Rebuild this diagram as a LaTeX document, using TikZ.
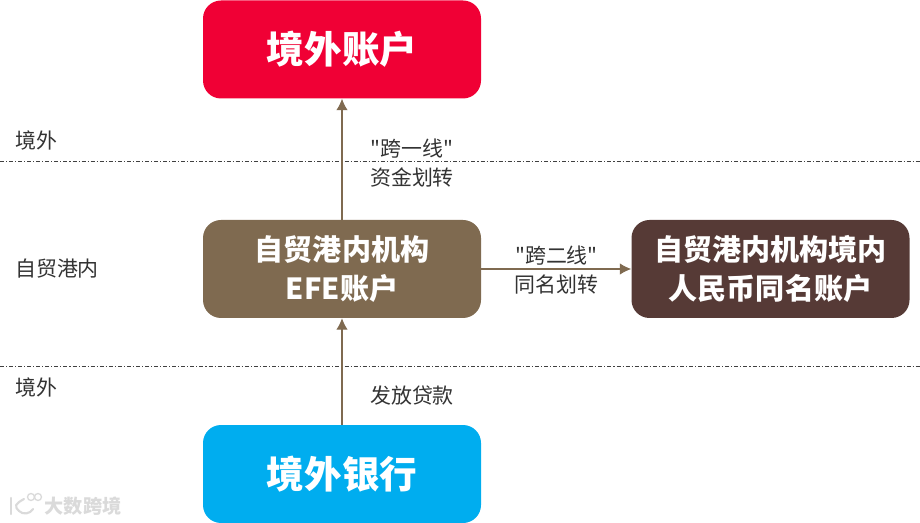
\documentclass[tikz,border=0pt]{standalone}
\usepackage{fontspec}
\setmainfont{Noto Sans CJK SC}
\newfontfamily\cnfont{Noto Sans CJK SC}
\usetikzlibrary{arrows.meta}
\definecolor{redbox}{HTML}{F00035}
\definecolor{brownbox}{HTML}{7F6A50}
\definecolor{darkbox}{HTML}{563A36}
\definecolor{bluebox}{HTML}{00ADEF}
\definecolor{markgray}{HTML}{DADADA}
\tikzset{
  acct/.style={rounded corners=13.5pt,minimum width=208.5pt,minimum height=73.5pt,inner sep=0pt,text=white,align=center,font=\fontsize{21.8}{29}\selectfont\bfseries},
  bigacct/.style={acct,font=\fontsize{28.2}{33}\selectfont\bfseries},
  link/.style={draw=brownbox,line width=0.8pt,-{Latex[length=8.5pt,width=8.5pt]}},
  zone/.style={black!75,line width=0.6pt,dash pattern=on 3pt off 1.5pt on 0.8pt off 1.5pt},
  lab/.style={inner sep=0pt,text=black!80,font=\cnfont\fontsize{15.7}{18}\selectfont},
  wmark/.style={inner sep=0pt,text=markgray,font=\fontsize{14.4}{16}\selectfont\bfseries}
}
\begin{document}
\begin{tikzpicture}[x=0.75pt,y=-0.75pt]
\useasboundingbox (0,0) rectangle (920,523);
% zones
\coordinate (z1a) at (0,161);
\coordinate (z1b) at (920,161);
\coordinate (z2a) at (0,366);
\coordinate (z2b) at (920,366);
\draw [zone] (z1a) -- (z1b);
\draw [zone] (z2a) -- (z2b);
\node [lab] (out1) at (36.5,141) {境外};
\node [lab] (ftz) at (57,269) {自贸港内};
\node [lab] (out2) at (36.5,388) {境外};
% accounts
\node [bigacct,fill=redbox] (abroad) at (342,49.5) {境外账户};
\node [acct,fill=brownbox] (efe) at (342,269) {自贸港内机构\\EFE账户};
\node [acct,fill=darkbox] (same) at (770.5,269) {自贸港内机构境内\\人民币同名账户};
\node [bigacct,fill=bluebox] (bank) at (342,474) {境外银行};
% connectors
\draw [link] (bank) -- (efe);
\draw [link] (efe) -- (abroad);
\draw [link] (efe) -- (same);
\node [lab] (t1) at (412,149) {"跨一线"};
\node [lab] (t2) at (412,177) {资金划转};
\node [lab] (t3) at (556.5,256) {"跨二线"};
\node [lab] (t4) at (556.5,285) {同名划转};
\node [lab] (t5) at (412,396) {发放贷款};
% watermark
\node [wmark] (mark) at (83,506) {大数跨境};
\draw [markgray,line width=1.6pt,line cap=round] (11,498) -- (11,514);
\draw [markgray,line width=1.6pt,line cap=round] (24,499) .. controls (15,504) and (14,506) .. (19,511) .. controls (23,515) and (30,514) .. (33,509);
\draw [markgray,line width=1pt] (31,497) circle (3.5);
\draw [markgray,line width=1pt] (38,497) circle (3.5);
\end{tikzpicture}
\end{document}
